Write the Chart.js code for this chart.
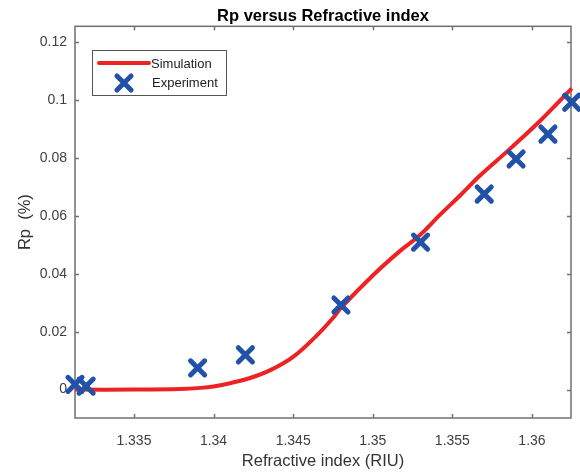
<!DOCTYPE html>
<html>
<head>
<meta charset="utf-8">
<script src="https://cdn.jsdelivr.net/npm/chart.js@4.4.0/dist/chart.umd.min.js"></script>
<style>
html, body { margin: 0; padding: 0; background: #fff; }
</style>
</head>
<body>
<canvas id="c" width="580" height="475"></canvas>
<script>
// simulated Rp curve
var simX = [1.3313, 1.3350, 1.3379, 1.3392, 1.3400, 1.3411, 1.3423, 1.3436, 1.3450, 1.3464, 1.3475,
            1.3480, 1.3500, 1.3517, 1.3529, 1.3542, 1.3555, 1.3567, 1.3586, 1.3605, 1.3625];
var simY = [0.0000, 0.0000, 0.0002, 0.0006, 0.0011, 0.0023, 0.0040, 0.0068, 0.0113, 0.0182, 0.0247,
            0.0282, 0.0394, 0.0478, 0.0530, 0.0602, 0.0671, 0.0737, 0.0830, 0.0927, 0.1040];
// measured points
var expX = [1.3313, 1.3320, 1.3390, 1.3420, 1.3480, 1.3530, 1.3570, 1.3590, 1.3610, 1.3625];
var expY = [0.0018, 0.0012, 0.0075, 0.0120, 0.0292, 0.0509, 0.0675, 0.0796, 0.0882, 0.0992];

var xTicks = [1.335, 1.34, 1.345, 1.35, 1.355, 1.36];
var xTickLabels = ['1.335', '1.34', '1.345', '1.35', '1.355', '1.36'];
var yTicks = [0, 0.02, 0.04, 0.06, 0.08, 0.1, 0.12];
var yTickLabels = ['0', '0.02', '0.04', '0.06', '0.08', '0.1', '0.12'];

var FONT = 'Liberation Sans, Arial, sans-serif';
var RED = '#ee2222';
var BLUE = '#2152a8';

function pts(xs, ys) {
  return xs.map(function(x, i) { return {x: x, y: ys[i]}; });
}

// MATLAB style box with inward ticks on all four sides
var frame = {
  id: 'frame',
  beforeDatasetsDraw: function(chart) {
    var ctx = chart.ctx, a = chart.chartArea;
    var xs = chart.scales.x, ys = chart.scales.y;
    ctx.save();
    ctx.strokeStyle = '#707070';
    ctx.lineWidth = 1.5;
    ctx.strokeRect(a.left, a.top, a.right - a.left, a.bottom - a.top);
    ctx.beginPath();
    xTicks.forEach(function(v) {
      var p = Math.round(xs.getPixelForValue(v)) + 0.5;
      ctx.moveTo(p, a.bottom); ctx.lineTo(p, a.bottom - 4);
      ctx.moveTo(p, a.top); ctx.lineTo(p, a.top + 4);
    });
    yTicks.forEach(function(v) {
      var p = Math.round(ys.getPixelForValue(v)) + 0.5;
      ctx.moveTo(a.left, p); ctx.lineTo(a.left + 4, p);
      ctx.moveTo(a.right, p); ctx.lineTo(a.right - 4, p);
    });
    ctx.stroke();
    ctx.restore();
    // rounder ends on the X markers
    ctx.lineCap = 'round';
  }
};

// legend box inside the plot, top left
var boxLegend = {
  id: 'boxLegend',
  afterDatasetsDraw: function(chart) {
    var ctx = chart.ctx;
    var ds = chart.data.datasets;
    ctx.save();
    ctx.fillStyle = '#fff';
    ctx.fillRect(92, 50, 135, 46);
    ctx.strokeStyle = '#555';
    ctx.lineWidth = 1;
    ctx.strokeRect(92.5, 50.5, 134, 45);

    ctx.strokeStyle = RED;
    ctx.lineWidth = 4;
    ctx.beginPath();
    ctx.moveTo(99, 63); ctx.lineTo(149, 63);
    ctx.stroke();

    ctx.lineCap = 'round';
    ctx.strokeStyle = BLUE;
    ctx.lineWidth = 5;
    Chart.helpers.drawPoint(ctx, {pointStyle: 'crossRot', radius: 10, borderWidth: 5, rotation: 0}, 124, 83);

    ctx.fillStyle = '#222';
    ctx.font = '13px ' + FONT;
    ctx.textBaseline = 'middle';
    ctx.textAlign = 'left';
    ctx.fillText(ds[0].label, 151, 64);
    ctx.fillText(ds[1].label, 152, 83);
    ctx.restore();
  }
};

new Chart(document.getElementById('c'), {
  type: 'scatter',
  data: {
    datasets: [
      {
        label: 'Simulation',
        data: pts(simX, simY),
        showLine: true,
        borderColor: RED,
        borderWidth: 4,
        pointRadius: 0,
        tension: 0.4,
        order: 1,
        clip: false
      },
      {
        label: 'Experiment',
        data: pts(expX, expY),
        showLine: false,
        pointStyle: 'crossRot',
        pointRadius: 10,
        pointBorderWidth: 5,
        pointBorderColor: BLUE,
        pointBackgroundColor: BLUE,
        order: 0,
        clip: false
      }
    ]
  },
  options: {
    responsive: false,
    animation: false,
    devicePixelRatio: 1,
    layout: { autoPadding: false, padding: { left: 0, right: 9, top: 0, bottom: 0 } },
    plugins: {
      legend: { display: false },
      tooltip: { enabled: false },
      title: {
        display: true,
        fullSize: false,
        text: 'Rp versus Refractive index',
        color: '#000',
        font: { family: FONT, size: 16.5, weight: 'bold' },
        padding: { top: 6.5, bottom: 0 }
      }
    },
    scales: {
      x: {
        type: 'linear',
        min: 1.3313,
        max: 1.36245,
        grid: { display: false, drawTicks: false },
        border: { display: false },
        afterBuildTicks: function(s) { s.ticks = xTicks.map(function(v) { return {value: v}; }); },
        afterFit: function(s) { s.height = 57; s.paddingLeft = 0; s.paddingRight = 0; },
        ticks: {
          padding: 15,
          color: '#404040',
          font: { family: FONT, size: 14 },
          maxRotation: 0,
          autoSkip: false,
          callback: function(v) { var i = xTicks.indexOf(v); return i < 0 ? '' : xTickLabels[i]; }
        },
        title: {
          display: true,
          text: 'Refractive index (RIU)',
          color: '#333',
          font: { family: FONT, size: 16.5 },
          padding: { top: 0, bottom: 4 }
        }
      },
      y: {
        type: 'linear',
        min: -0.0098,
        max: 0.1254,
        grid: { display: false, drawTicks: false },
        border: { display: false },
        afterBuildTicks: function(s) { s.ticks = yTicks.map(function(v) { return {value: v}; }); },
        afterFit: function(s) { s.width = 75; s.paddingTop = 0; s.paddingBottom = 0; },
        ticks: {
          padding: 8,
          color: '#404040',
          font: { family: FONT, size: 14 },
          autoSkip: false,
          callback: function(v) { var i = yTicks.indexOf(v); return i < 0 ? '' : yTickLabels[i]; }
        },
        title: {
          display: true,
          text: 'Rp  (%)',
          color: '#333',
          font: { family: FONT, size: 16.5 },
          padding: { top: 16, bottom: 0 }
        }
      }
    }
  },
  plugins: [frame, boxLegend]
});
</script>
</body>
</html>
